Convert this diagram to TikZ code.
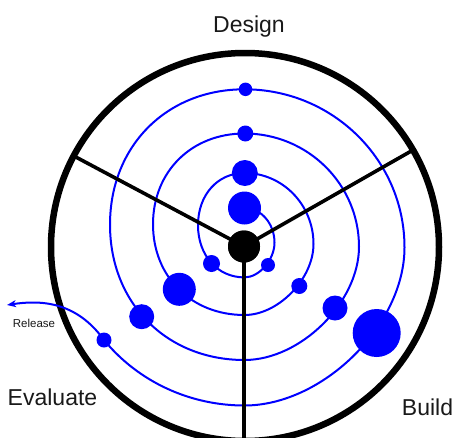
\documentclass[tikz,border=0pt]{standalone}
\usepackage{fontspec}
\setmainfont{Liberation Sans}
\usetikzlibrary{arrows.meta}
\definecolor{pureblue}{RGB}{0,0,255}
\definecolor{txtgray}{RGB}{25,25,25}
% right half-loop: top -> right -> bottom ; left half-loop: bottom -> left -> top
\newcommand\RHalf[4]{.. controls ({#1+0.552*#3},{#2-#4}) and ({#1+#3},{#2-0.552*#4}) .. ({#1+#3},{#2}) .. controls ({#1+#3},{#2+0.49*#4}) and ({#1+0.49*#3},{#2+#4}) .. ({#1},{#2+#4})}
\newcommand\LHalf[4]{.. controls ({#1-0.58*#3},{#2+#4}) and ({#1-#3},{#2+0.58*#4}) .. ({#1-#3},{#2}) .. controls ({#1-#3},{#2-0.58*#4}) and ({#1-0.58*#3},{#2-#4}) .. ({#1},{#2-#4})}
\begin{document}
\begin{tikzpicture}[x=1pt,y=-1pt,
  ring/.style={line width=6.5pt, draw=black},
  spoke/.style={line width=3.6pt, draw=black},
  spiral/.style={draw=pureblue, line width=2pt},
  dot/.style={circle, fill=pureblue, inner sep=0pt, draw=none},
  hubdot/.style={circle, fill=black, inner sep=0pt, minimum size=32pt},
  biglabel/.style={font=\fontsize{23}{27}\selectfont, text=txtgray, inner sep=0pt, anchor=base},
  smalllabel/.style={font=\fontsize{11.5}{13}\selectfont, text=txtgray, inner sep=0pt, anchor=base}]
\useasboundingbox (0,0) rectangle (455,437);
\clip (0,0) rectangle (455,437);

% outer ring
\draw[ring] (245,247) circle[radius=194];

% dots on the spiral
\node[dot, minimum size=33pt] (A) at (244.5,208) {};
\node[dot, minimum size=14pt] (B) at (268,265) {};
\node[dot, minimum size=17pt] (C) at (211.5,263.5) {};
\node[dot, minimum size=26pt] (D) at (244.8,173) {};
\node[dot, minimum size=16pt] (E) at (299.3,286) {};
\node[dot, minimum size=33pt] (F) at (179.3,289.3) {};
\node[dot, minimum size=16pt] (G) at (245.3,133.5) {};
\node[dot, minimum size=25pt] (H) at (335,308) {};
\node[dot, minimum size=25pt] (I) at (141.7,316.7) {};
\node[dot, minimum size=13.5pt] (J) at (245.5,89.3) {};
\node[dot, minimum size=48pt] (K) at (376.7,333) {};
\node[dot, minimum size=15pt] (L) at (104,340) {};
\coordinate (tip) at (7,305);

% spiral
\draw[spiral, -{Stealth[length=9pt,width=7pt,inset=2.5pt]}] (A.center)
  \RHalf{244.5}{242.7}{30}{34.7}
  \LHalf{244.5}{225.2}{46.5}{52.2}
  \RHalf{244.5}{244}{69}{71}
  \LHalf{244.5}{224.25}{91.5}{90.75}
  \RHalf{244.5}{246.75}{114.5}{113.25}
  \LHalf{244.5}{224.65}{134.5}{135.35}
  \RHalf{244.5}{247.4}{160}{158.1}
  .. controls (190.3,405.5) and (138.6,382.1) .. (L.center)
  .. controls (76,301) and (40,300) .. (tip);

% hub and spokes
\node[hubdot] (hub) at (244,246.5) {};
\coordinate (ul) at (73.7,155.9);
\coordinate (ur) at (413,150);
\coordinate (bt) at (244,445);
\draw[spoke] (hub.center) -- (ul);
\draw[spoke] (hub.center) -- (ur);
\draw[spoke] (hub.center) -- (bt);
\node[hubdot] (hubtop) at (hub.center) {};

% labels
\node[biglabel] (design) at (249,32) {Design};
\node[biglabel] (evaluate) at (52.5,405) {Evaluate};
\node[biglabel] (build) at (427.5,415) {Build};
\node[smalllabel] (release) at (34,327) {Release};
\end{tikzpicture}
\end{document}
